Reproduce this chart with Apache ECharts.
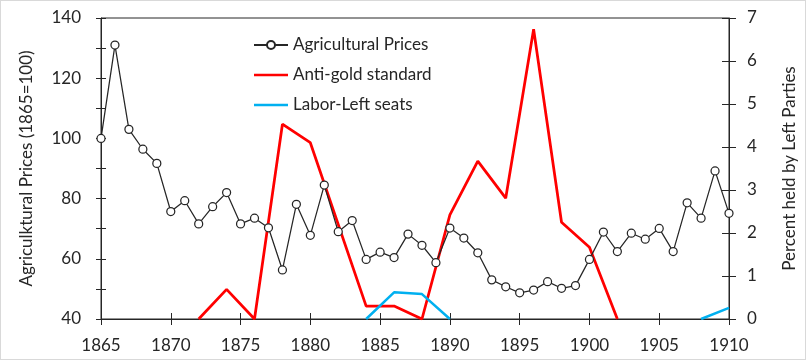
<!DOCTYPE html>
<html>
<head>
<meta charset="utf-8">
<script src="https://cdn.jsdelivr.net/npm/echarts@6/dist/echarts.min.js"></script>
<style>
html,body{margin:0;padding:0;background:#fff;}
#frame{position:absolute;left:0;top:0;width:804px;height:358px;border:1px solid #d9d9d9;}
#chart{position:absolute;left:0;top:0;width:806px;height:360px;}
</style>
</head>
<body>
<div id="frame"></div>
<div id="chart"></div>
<script>
// ---- data ----
const priceYears = [1865,1866,1867,1868,1869,1870,1871,1872,1873,1874,1875,1876,1877,1878,1879,1880,1881,1882,1883,1884,1885,1886,1887,1888,1889,1890,1891,1892,1893,1894,1895,1896,1897,1898,1899,1900,1901,1902,1903,1904,1905,1906,1907,1908,1909,1910];
const priceValues = [100,131,103,96.4,91.7,75.7,79.3,71.6,77.3,82,71.6,73.5,70.3,56.3,78.1,67.8,84.5,69,72.7,59.8,62.2,60.4,68.2,64.5,58.7,70.2,66.9,62,53,50.7,48.7,49.6,52.4,50.2,51.1,59.8,68.9,62.4,68.5,66.5,70.1,62.4,78.6,73.5,89.2,75.1];

const goldYears = [1872,1874,1876,1878,1880,1884,1886,1888,1890,1892,1894,1896,1898,1900,1902];
const goldValues = [0,0.69,0,4.53,4.1,0.3,0.3,0,2.42,3.67,2.81,6.74,2.25,1.67,0];

const laborYears = [1884,1886,1888,1890,1908,1910];
const laborValues = [0,0.62,0.58,0,0,0.26];
const laborGapAfter = 1890;

const seriesNames = ['Agricultural Prices','Anti-gold standard','Labor-Left seats'];
const leftAxisName = 'Agriculktural Prices (1865=100)';
const rightAxisName = 'Percent held by Left Parties';

// ---- build ----
const pricePairs = priceYears.map((y,i)=>[y,priceValues[i]]);
const goldPairs = goldYears.map((y,i)=>[y,goldValues[i]]);
const laborPairs = [];
laborYears.forEach((y,i)=>{
  laborPairs.push([y,laborValues[i]]);
  if (y===laborGapAfter) laborPairs.push([y+1,null]);
});

const FONT = 'Lato';
const TXT = '#262626';
const AX = '#262626';
const FS = 17;
const lineIcon = 'path://M0,0L34,0L34,2.6L0,2.6Z';

const chart = echarts.init(document.getElementById('chart'), null, {renderer:'canvas'});
chart.setOption({
  animation:false,
  textStyle:{fontFamily:FONT,color:TXT},
  grid:{left:101,right:77,top:18,bottom:41,show:true,borderColor:AX,borderWidth:1,backgroundColor:'transparent'},
  legend:{
    orient:'vertical',left:248,top:30,itemWidth:34,itemHeight:10,itemGap:10,
    textStyle:{fontFamily:FONT,fontSize:FS,color:TXT,lineHeight:20},
    data:[
      {name:seriesNames[0]},
      {name:seriesNames[1],icon:lineIcon},
      {name:seriesNames[2],icon:lineIcon}
    ]
  },
  xAxis:[
    {type:'value',min:1865,max:1910,interval:5,position:'bottom',
     axisLine:{show:true,lineStyle:{color:AX,width:1}},
     axisTick:{show:true,inside:false,length:6,lineStyle:{color:AX}},
     axisLabel:{margin:18,fontSize:FS,color:TXT,fontFamily:FONT,formatter:v=>String(v)},
     splitLine:{show:false}},
    {type:'value',min:1865,max:1910,interval:5,position:'bottom',
     axisLine:{show:false},
     axisTick:{show:true,inside:true,length:6,lineStyle:{color:AX}},
     axisLabel:{show:false},splitLine:{show:false}}
  ],
  yAxis:[
    {type:'value',min:40,max:140,interval:20,position:'left',
     name:leftAxisName,nameLocation:'middle',nameRotate:90,nameGap:66,
     nameTextStyle:{fontSize:FS,color:TXT,fontFamily:FONT},
     axisLine:{show:true,lineStyle:{color:AX}},
     axisTick:{show:true,inside:false,length:5,lineStyle:{color:AX}},
     minorTick:{show:true,splitNumber:2,length:5,lineStyle:{color:AX}},
     axisLabel:{margin:20,fontSize:FS,color:TXT,fontFamily:FONT},
     splitLine:{show:false}},
    {type:'value',min:0,max:7,interval:1,position:'right',
     name:rightAxisName,nameLocation:'middle',nameRotate:90,nameGap:52,
     nameTextStyle:{fontSize:FS,color:TXT,fontFamily:FONT},
     axisLine:{show:true,lineStyle:{color:AX}},
     axisTick:{show:true,inside:false,length:7,lineStyle:{color:AX}},
     axisLabel:{margin:18,fontSize:FS,color:TXT,fontFamily:FONT},
     splitLine:{show:false}},
    {type:'value',min:40,max:140,interval:20,position:'left',offset:0,
     axisLine:{show:false},
     axisTick:{show:true,inside:true,length:5,lineStyle:{color:AX}},
     minorTick:{show:true,splitNumber:2,length:5,lineStyle:{color:AX}},
     axisLabel:{show:false},splitLine:{show:false}},
    {type:'value',min:0,max:7,interval:1,position:'right',offset:0,
     axisLine:{show:false},
     axisTick:{show:true,inside:true,length:7,lineStyle:{color:AX}},
     axisLabel:{show:false},splitLine:{show:false}}
  ],
  series:[
    {name:seriesNames[0],type:'line',xAxisIndex:0,yAxisIndex:0,data:pricePairs,
     symbol:'circle',symbolSize:8,z:5,
     lineStyle:{color:'#262626',width:1.25},
     itemStyle:{color:'#ffffff',borderColor:'#262626',borderWidth:1.25}},
    {name:seriesNames[1],type:'line',xAxisIndex:0,yAxisIndex:1,data:goldPairs,
     symbol:'none',z:3,
     lineStyle:{color:'#ff0000',width:2.75},itemStyle:{color:'#ff0000'}},
    {name:seriesNames[2],type:'line',xAxisIndex:0,yAxisIndex:1,data:laborPairs,
     symbol:'none',z:4,connectNulls:false,
     lineStyle:{color:'#00b0f0',width:2.5},itemStyle:{color:'#00b0f0'}}
  ]
});
</script>
</body>
</html>
